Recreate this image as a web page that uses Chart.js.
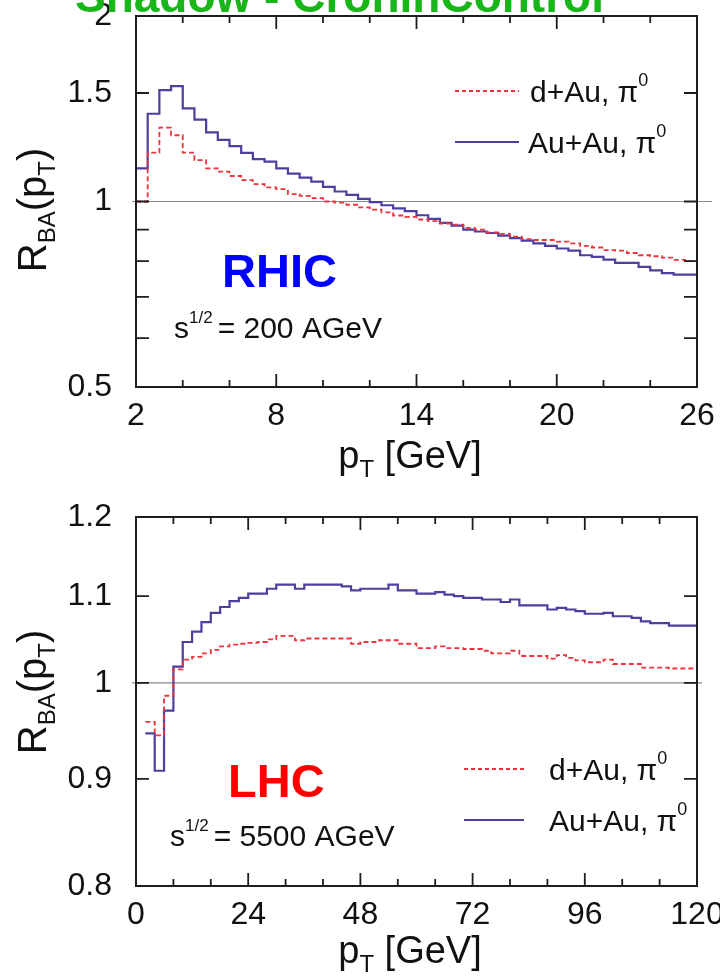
<!DOCTYPE html>
<html><head><meta charset="utf-8">
<script src="https://cdn.jsdelivr.net/npm/chart.js@4.4.0/dist/chart.umd.min.js"></script>
<style>
html,body{margin:0;padding:0;background:#fff;}
#wrap{position:relative;width:720px;height:979px;overflow:hidden;background:#fff;}
canvas{position:absolute;left:0;top:0;}
</style></head><body>
<div id="wrap"><canvas id="c1" width="720" height="979"></canvas><canvas id="c2" width="720" height="979"></canvas></div>
<script>
// ---------------- DATA ----------------
const rhicBinEdges = [2,2.5,3,3.5,4,4.5,5,5.5,6,6.5,7,7.5,8,8.5,9,9.5,10,10.5,11,11.5,12,12.5,13,13.5,14,14.5,15,15.5,16,16.5,17,17.5,18,18.5,19,19.5,20,20.5,21,21.5,22,22.5,23,23.5,24,24.5,25,25.5,26];
const rhicDAu = [1.000,1.200,1.318,1.281,1.200,1.167,1.132,1.118,1.100,1.083,
                 1.067,1.054,1.047,1.028,1.021,1.013,1.000,0.996,0.988,0.978,
                 0.970,0.960,0.949,0.944,0.935,0.929,0.921,0.917,0.906,0.900,
                 0.891,0.886,0.877,0.869,0.866,0.866,0.861,0.855,0.847,0.842,
                 0.834,0.832,0.825,0.818,0.815,0.811,0.804,0.800];
const rhicAuAu = [1.132,1.388,1.516,1.539,1.416,1.358,1.295,1.259,1.230,1.199,
                  1.172,1.161,1.132,1.110,1.093,1.077,1.056,1.038,1.025,1.010,
                  0.998,0.986,0.975,0.965,0.950,0.937,0.923,0.914,0.900,0.894,
                  0.889,0.880,0.872,0.864,0.855,0.847,0.839,0.832,0.818,0.813,
                  0.805,0.795,0.795,0.783,0.773,0.765,0.761,0.761];
const lhcBinEdges = [2,4,6,8,10,12,14,16,18,20,22,24,26,28,30,32,34,36,38,40,42,44,46,48,50,52,54,56,58,60,62,64,66,68,70,72,74,76,78,80,82,84,86,88,90,92,94,96,98,100,102,104,106,108,110,112,114,116,118,120];
const lhcDAu = [0.958,0.944,0.986,1.015,1.026,1.029,1.033,1.037,1.041,1.043,
                1.044,1.045,1.046,1.049,1.053,1.053,1.048,1.050,1.050,1.050,
                1.050,1.050,1.044,1.046,1.046,1.048,1.048,1.044,1.044,1.039,
                1.039,1.041,1.039,1.039,1.038,1.038,1.036,1.033,1.033,1.036,
                1.030,1.030,1.030,1.027,1.031,1.028,1.025,1.023,1.023,1.026,
                1.021,1.021,1.021,1.017,1.017,1.017,1.016,1.016,1.016];
const lhcAuAu = [0.946,0.908,0.970,1.018,1.046,1.058,1.069,1.080,1.087,1.094,
                 1.098,1.103,1.103,1.109,1.114,1.114,1.109,1.114,1.114,1.114,
                 1.114,1.112,1.107,1.109,1.109,1.109,1.114,1.107,1.107,1.103,
                 1.103,1.105,1.102,1.100,1.098,1.098,1.096,1.096,1.093,1.096,
                 1.089,1.089,1.089,1.084,1.086,1.084,1.082,1.079,1.079,1.080,
                 1.076,1.076,1.074,1.070,1.068,1.068,1.065,1.065,1.065];
const seriesNames = ['d+Au, π', 'Au+Au, π'];
const rhicXTickLabels = [2,8,14,20,26];
const rhicXMinorTicks = [4,6,10,12,16,18,22,24];
const rhicYTickLabels = [0.5,1,1.5,2];
const rhicYMinorTicks = [0.6,0.7,0.8,0.9];
const lhcXTickLabels = [0,24,48,72,96,120];
const lhcXMinorTicks = [8,16,32,40,56,64,80,88,104,112];
const lhcYTickLabels = [0.8,0.9,1,1.1,1.2];
const lhcYMinorTicks = [];

// ---------------- STYLE ----------------
const RED = 'rgb(236,52,62)';
const BLUE = 'rgb(78,62,158)';
const FONT = '"Liberation Sans", Arial, Helvetica, sans-serif';

function histPoints(edges, vals){
  const pts=[];
  vals.forEach((v,i)=>{ pts.push({x:edges[i],y:v}); pts.push({x:edges[i+1],y:v}); });
  return pts;
}

function drawParts(ctx, x, y, parts){
  let cx = x;
  for (const p of parts){
    ctx.font = (p.bold?'bold ':'') + p.size + 'px ' + FONT;
    ctx.fillStyle = p.color || '#111';
    ctx.fillText(p.t, cx, y + (p.dy||0));
    cx += ctx.measureText(p.t).width + (p.gap||0);
  }
  return cx - x;
}
function measureParts(ctx, parts){
  let w=0;
  for (const p of parts){ ctx.font=(p.bold?'bold ':'')+p.size+'px '+FONT; w+=ctx.measureText(p.t).width+(p.gap||0); }
  return w;
}

const decorPlugin = {
  id:'decor',
  beforeDatasetsDraw(chart, args, o){
    const {ctx, chartArea:a, scales:{y}} = chart;
    const py = y.getPixelForValue(1);
    ctx.save();
    ctx.strokeStyle='#8a8a8a'; ctx.lineWidth=1.2;
    ctx.beginPath(); ctx.moveTo(a.left-4, py); ctx.lineTo(a.right+o.refExtend, py); ctx.stroke();
    ctx.restore();
  },
  afterDatasetsDraw(chart, args, o){
    const {ctx, chartArea:a, scales:{x,y}} = chart;
    ctx.save();
    ctx.strokeStyle='#1e1e1e'; ctx.lineWidth=2;
    ctx.strokeRect(a.left, a.top, a.right-a.left, a.bottom-a.top);
    ctx.lineWidth=1.8;
    ctx.beginPath();
    const xt=(v,len)=>{const p=x.getPixelForValue(v); ctx.moveTo(p,a.bottom); ctx.lineTo(p,a.bottom-len); ctx.moveTo(p,a.top); ctx.lineTo(p,a.top+len);};
    o.xMajor.forEach(v=>xt(v,13)); o.xMinor.forEach(v=>xt(v,7));
    const yt=(v,len)=>{const p=y.getPixelForValue(v); ctx.moveTo(a.left,p); ctx.lineTo(a.left+len,p); ctx.moveTo(a.right,p); ctx.lineTo(a.right-len,p);};
    o.yMajor.forEach(v=>yt(v,13)); o.yMinor.forEach(v=>yt(v,13));
    ctx.stroke();
    ctx.restore();
  },
  afterDraw(chart, args, o){
    const ctx = chart.ctx;
    ctx.save();
    ctx.textBaseline='alphabetic'; ctx.textAlign='left';
    if (o.title){ drawParts(ctx, o.title.x, o.title.y, [{t:o.title.t,size:46,bold:true,color:'rgb(24,182,24)'}]); }
    const yParts=[{t:'R',size:40},{t:'BA',size:24,dy:9},{t:'(p',size:40},{t:'T',size:24,dy:9},{t:')',size:40}];
    ctx.save();
    ctx.translate(o.yTitle.x, o.yTitle.y); ctx.rotate(-Math.PI/2);
    const yw = measureParts(ctx,yParts);
    drawParts(ctx, -yw/2, 0, yParts);
    ctx.restore();
    const xParts=[{t:'p',size:38},{t:'T',size:24,dy:9},{t:' [GeV]',size:38}];
    const xw = measureParts(ctx,xParts);
    drawParts(ctx, o.xTitle.x - xw/2, o.xTitle.y, xParts);
    drawParts(ctx, o.tag.x, o.tag.y, [{t:o.tag.t,size:47,bold:true,color:o.tag.color}]);
    drawParts(ctx, o.energy.x, o.energy.y, [{t:'s',size:30},{t:'1/2',size:17,dy:-15,gap:5},{t:'= '+o.energy.t,size:30}]);
    o.legend.forEach((r,i)=>{
      ctx.save();
      ctx.strokeStyle = r.color; ctx.lineWidth = r.dash?1.8:2;
      ctx.setLineDash(r.dash?[4,3]:[]);
      ctx.beginPath(); ctx.moveTo(r.x0, r.y); ctx.lineTo(r.x1, r.y); ctx.stroke();
      ctx.restore();
      drawParts(ctx, r.tx, r.y+11, [{t:r.t,size:30},{t:'0',size:18,dy:-16}]);
    });
    ctx.restore();
  }
};

function makeChart(id, cfg){
  return new Chart(document.getElementById(id), {
    type:'line',
    data:{ datasets:[
      {label:seriesNames[0], data:histPoints(cfg.edges,cfg.dau), borderColor:RED, borderWidth:1.8, borderDash:[5,3], pointRadius:0, tension:0, fill:false, order:0},
      {label:seriesNames[1], data:histPoints(cfg.edges,cfg.auau), borderColor:BLUE, borderWidth:2.2, pointRadius:0, tension:0, fill:false, order:1}
    ]},
    options:{
      responsive:false, animation:false, devicePixelRatio:1,
      layout:{padding:cfg.padding},
      plugins:{legend:{display:false}, tooltip:{enabled:false}, decor:cfg.decor},
      scales:{
        x:{type:'linear', min:cfg.xmin, max:cfg.xmax,
           grid:{display:false, drawTicks:false}, border:{display:false},
           afterBuildTicks:s=>{ s.ticks = cfg.xLabels.map(v=>({value:v})); },
           afterFit:s=>{ s.height=60; s.paddingLeft=0; s.paddingRight=0; },
           ticks:{autoSkip:false, maxRotation:0, padding:10, color:'#111', font:{family:FONT,size:32}, callback:v=>String(v)}},
        y:{type:'logarithmic', min:cfg.ymin, max:cfg.ymax,
           grid:{display:false, drawTicks:false}, border:{display:false},
           afterBuildTicks:s=>{ s.ticks = cfg.yLabels.map(v=>({value:v})); },
           afterFit:s=>{ s.width=136; s.paddingTop=0; s.paddingBottom=0; },
           ticks:{autoSkip:false, padding:24, color:'#111', font:{family:FONT,size:32}, callback:v=>String(v)}}
      }
    },
    plugins:[decorPlugin]
  });
}

makeChart('c1', {
  edges:rhicBinEdges, dau:rhicDAu, auau:rhicAuAu,
  xmin:2, xmax:26, ymin:0.5, ymax:2,
  xLabels:rhicXTickLabels, yLabels:rhicYTickLabels,
  padding:{top:16, right:23, bottom:979-387-60, left:0},
  decor:{
    refExtend:15,
    xMajor:rhicXTickLabels, xMinor:rhicXMinorTicks, yMajor:rhicYTickLabels, yMinor:rhicYMinorTicks,
    title:{t:'Shadow - CroninControl', x:75, y:12},
    yTitle:{x:46, y:210},
    xTitle:{x:410, y:468},
    tag:{t:'RHIC', x:222, y:287, color:'#0000ff'},
    energy:{t:'200 AGeV', x:174, y:338},
    legend:[
      {t:seriesNames[0], color:RED, dash:true, x0:455, x1:519, y:91, tx:530},
      {t:seriesNames[1], color:BLUE, dash:false, x0:455, x1:519, y:142, tx:528}
    ]
  }
});

makeChart('c2', {
  edges:lhcBinEdges, dau:lhcDAu, auau:lhcAuAu,
  xmin:0, xmax:120, ymin:0.8, ymax:1.2,
  xLabels:lhcXTickLabels, yLabels:lhcYTickLabels,
  padding:{top:517, right:23, bottom:979-886-60, left:0},
  decor:{
    refExtend:5,
    xMajor:lhcXTickLabels, xMinor:lhcXMinorTicks, yMajor:lhcYTickLabels, yMinor:lhcYMinorTicks,
    title:null,
    yTitle:{x:46, y:692},
    xTitle:{x:410, y:963},
    tag:{t:'LHC', x:228, y:797, color:'#ff0000'},
    energy:{t:'5500 AGeV', x:170, y:846},
    legend:[
      {t:seriesNames[0], color:RED, dash:true, x0:464, x1:524, y:769, tx:549},
      {t:seriesNames[1], color:BLUE, dash:false, x0:464, x1:524, y:820, tx:549}
    ]
  }
});
</script>
</body></html>
